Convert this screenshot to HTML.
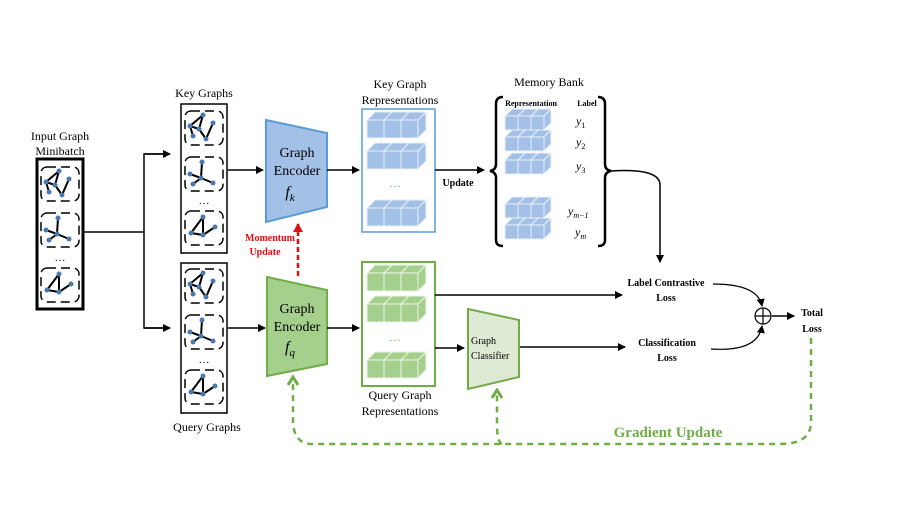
<!DOCTYPE html>
<html><head><meta charset="utf-8"><style>
html,body{margin:0;padding:0;background:#fff;}
svg{display:block;font-family:"Liberation Serif",serif;}
</style></head><body>
<svg id="s" width="913" height="514" viewBox="0 0 913 514" xmlns="http://www.w3.org/2000/svg">
<defs>
<marker id="ab" markerWidth="8" markerHeight="8" refX="7" refY="4" orient="auto" markerUnits="userSpaceOnUse"><path d="M0,0 L8,4 L0,8 z" fill="#000"/></marker>
<marker id="ar" markerWidth="10" markerHeight="10" refX="8" refY="5" orient="auto" markerUnits="userSpaceOnUse"><path d="M0,0 L9,5 L0,10 z" fill="#e01010"/></marker>
<marker id="ag" markerWidth="12" markerHeight="12" refX="10" refY="6" orient="auto" markerUnits="userSpaceOnUse"><path d="M2,1 L10,6 L2,11" fill="none" stroke="#70ad47" stroke-width="3"/></marker>
</defs>
<g id="g"></g>
<rect x="37" y="159" width="46" height="150" fill="none" stroke="#000" stroke-width="3"/>
<rect x="181" y="104" width="46" height="149" fill="none" stroke="#000" stroke-width="1.5"/>
<rect x="181" y="263" width="46" height="150" fill="none" stroke="#000" stroke-width="1.5"/>
<path d="M84,232 H144 V154 H168 M144,232 V328 H168" fill="none" stroke="#000" stroke-width="1.5"/>
<path d="M144,154 H170" stroke="#000" stroke-width="1.5" marker-end="url(#ab)"/>
<path d="M144,328 H170" stroke="#000" stroke-width="1.5" marker-end="url(#ab)"/>
<polygon points="266,120 327,133 327,207 266,222" fill="#a3c0e6" stroke="#5b9bd5" stroke-width="2"/>
<polygon points="267,277 327,290 327,364 267,376" fill="#a5cf8c" stroke="#70ad47" stroke-width="2"/>
<text x="297" y="157" font-size="14" text-anchor="middle">Graph</text>
<text x="297" y="175" font-size="14" text-anchor="middle">Encoder</text>
<text x="290" y="197" font-size="16" font-style="italic" text-anchor="middle">f<tspan font-size="11" dy="4">k</tspan></text>
<text x="297" y="313" font-size="14" text-anchor="middle">Graph</text>
<text x="297" y="331" font-size="14" text-anchor="middle">Encoder</text>
<text x="290" y="352" font-size="16" font-style="italic" text-anchor="middle">f<tspan font-size="11" dy="4">q</tspan></text>
<path d="M228,170 H263" stroke="#000" stroke-width="1.5" marker-end="url(#ab)"/>
<path d="M228,328 H265" stroke="#000" stroke-width="1.5" marker-end="url(#ab)"/>
<path d="M298,276 V224" stroke="#e01010" stroke-width="2.5" stroke-dasharray="5,3" marker-end="url(#ar)"/>
<text x="270" y="241" font-size="10" font-weight="bold" fill="#e01010" text-anchor="middle">Momentum</text>
<text x="265" y="255" font-size="10" font-weight="bold" fill="#e01010" text-anchor="middle">Update</text>
<rect x="362" y="109" width="73" height="123" fill="none" stroke="#5b9bd5" stroke-width="1.5"/>
<rect x="362" y="262" width="73" height="124" fill="none" stroke="#70ad47" stroke-width="2"/>
<text x="395" y="190" font-size="12" fill="#5b9bd5" text-anchor="middle">···</text>
<text x="395" y="344" font-size="12" fill="#70ad47" text-anchor="middle">···</text>
<path d="M327,170 H359" stroke="#000" stroke-width="1.5" marker-end="url(#ab)"/>
<path d="M327,328 H359" stroke="#000" stroke-width="1.5" marker-end="url(#ab)"/>
<path d="M435,170 H484" stroke="#000" stroke-width="1.5" marker-end="url(#ab)"/>
<text x="458" y="186" font-size="10" font-weight="bold" text-anchor="middle">Update</text>
<path d="M503,97 Q496,97 496,104 V164 Q496,170 490,171 Q496,172 496,178 V240 Q496,246 503,246" fill="none" stroke="#000" stroke-width="2.5"/>
<path d="M598,97 Q605,97 605,104 V164 Q605,170 611,171 Q605,172 605,178 V240 Q605,246 598,246" fill="none" stroke="#000" stroke-width="2.5"/>
<text x="549" y="86" font-size="12" text-anchor="middle">Memory Bank</text>
<text x="531" y="106" font-size="8" font-weight="bold" text-anchor="middle">Representation</text>
<text x="587" y="106" font-size="8" font-weight="bold" text-anchor="middle">Label</text>
<g font-size="12" font-style="italic">
<text x="576" y="125">y<tspan font-size="8" font-style="normal" dy="3">1</tspan></text>
<text x="576" y="146">y<tspan font-size="8" font-style="normal" dy="3">2</tspan></text>
<text x="576" y="170">y<tspan font-size="8" font-style="normal" dy="3">3</tspan></text>
<text x="568" y="215">y<tspan font-size="8" dy="3">m−1</tspan></text>
<text x="575" y="236">y<tspan font-size="8" dy="3">m</tspan></text>
</g>
<path d="M611,171 Q660,168 660,185 V262" fill="none" stroke="#000" stroke-width="1.5" marker-end="url(#ab)"/>
<path d="M435,295 H622" stroke="#000" stroke-width="1.5" marker-end="url(#ab)"/>
<path d="M435,348 H464" stroke="#000" stroke-width="1.5" marker-end="url(#ab)"/>
<polygon points="468,309 519,320 519,377 468,389" fill="#dfead5" stroke="#70ad47" stroke-width="2"/>
<text x="471" y="344" font-size="10">Graph</text>
<text x="471" y="359" font-size="10">Classifier</text>
<path d="M520,347 H625" stroke="#000" stroke-width="1.5" marker-end="url(#ab)"/>
<g font-size="10" font-weight="bold" text-anchor="middle">
<text x="666" y="286">Label Contrastive</text>
<text x="666" y="301">Loss</text>
<text x="667" y="346">Classification</text>
<text x="667" y="361">Loss</text>
<text x="812" y="316">Total</text>
<text x="812" y="332">Loss</text>
</g>
<path d="M713,284 Q758,284 762,306" fill="none" stroke="#000" stroke-width="1.2" marker-end="url(#ab)"/>
<path d="M711,349 Q758,352 762,326" fill="none" stroke="#000" stroke-width="1.2" marker-end="url(#ab)"/>
<circle cx="763" cy="316" r="8" fill="#fff" stroke="#000" stroke-width="1.2"/>
<path d="M755,316 H771 M763,308 V324" stroke="#000" stroke-width="1.2"/>
<path d="M772,316 H794" stroke="#000" stroke-width="1.5" marker-end="url(#ab)"/>
<path d="M811,338 V422 Q811,444 780,444 H312 Q294,444 293,422 V377" fill="none" stroke="#70ad47" stroke-width="2.5" stroke-dasharray="6,5" marker-end="url(#ag)"/>
<path d="M502,444 Q497,442 497,425 V390" fill="none" stroke="#70ad47" stroke-width="2.5" stroke-dasharray="6,5" marker-end="url(#ag)"/>
<text x="668" y="437" font-size="15" font-weight="bold" fill="#70ad47" text-anchor="middle">Gradient Update</text>
<g font-size="12" text-anchor="middle">
<text x="60" y="140">Input Graph</text>
<text x="60" y="155">Minibatch</text>
<text x="204" y="97">Key Graphs</text>
<text x="207" y="431">Query Graphs</text>
<text x="400" y="88">Key Graph</text>
<text x="400" y="104">Representations</text>
<text x="400" y="399">Query Graph</text>
<text x="400" y="415">Representations</text>
</g>
<g font-size="11" text-anchor="middle">
<text x="60" y="264">···</text>
<text x="204" y="207">···</text>
<text x="204" y="366">···</text>
</g>
</svg>
<script>
var g=document.getElementById('g'),h='';
function cubes(x,y,w,hh,d,fill,st){
 var cw=w/3;
 for(var i=0;i<3;i++){var X=x+i*cw;
  h+='<polygon points="'+X+','+y+' '+(X+d)+','+(y-d)+' '+(X+cw+d)+','+(y-d)+' '+(X+cw)+','+y+'" fill="'+fill+'" stroke="'+st+'" stroke-width="1"/>';}
 h+='<polygon points="'+(x+w)+','+y+' '+(x+w+d)+','+(y-d)+' '+(x+w+d)+','+(y+hh-d)+' '+(x+w)+','+(y+hh)+'" fill="'+fill+'" stroke="'+st+'" stroke-width="1"/>';
 for(var i=0;i<3;i++){h+='<rect x="'+(x+i*cw)+'" y="'+y+'" width="'+cw+'" height="'+hh+'" fill="'+fill+'" stroke="'+st+'" stroke-width="1"/>';}
}
[120,151,208].forEach(function(y){cubes(367,y,51,18,8,'#a3c0e6','#e8f0fa');});
[273,304,360].forEach(function(y){cubes(367,y,51,18,8,'#a5cf8c','#eef6e8');});
[116,137,160,204,225].forEach(function(y){cubes(505,y,39,14,7,'#a3c0e6','#e8f0fa');});
function graph(x,y,t){
 h+='<rect x="'+x+'" y="'+y+'" width="38" height="34" rx="6" fill="none" stroke="#000" stroke-width="1.5" stroke-dasharray="9,5"/>';
 var pts,ed;
 if(t==0){pts=[[18,4],[5,15],[14,18],[28,12],[21,28],[8,25]];ed=[[0,1],[1,2],[0,2],[2,4],[4,3],[1,5]];}
 else if(t==1){pts=[[17,5],[16,21],[5,17],[28,26],[8,27]];ed=[[0,1],[1,2],[1,3],[1,4]];}
 else {pts=[[18,6],[6,22],[18,24],[30,16]];ed=[[0,1],[1,2],[0,2],[2,3]];}
 ed.forEach(function(e){h+='<line x1="'+(x+pts[e[0]][0])+'" y1="'+(y+pts[e[0]][1])+'" x2="'+(x+pts[e[1]][0])+'" y2="'+(y+pts[e[1]][1])+'" stroke="#000" stroke-width="2"/>';});
 pts.forEach(function(p){h+='<circle cx="'+(x+p[0])+'" cy="'+(y+p[1])+'" r="2.5" fill="#4a78b0"/>';});
}
graph(41,167,0);graph(41,213,1);graph(41,268,2);
graph(185,111,0);graph(185,157,1);graph(185,211,2);
graph(185,269,0);graph(185,315,1);graph(185,370,2);
g.innerHTML=h;
</script>
</body></html>
